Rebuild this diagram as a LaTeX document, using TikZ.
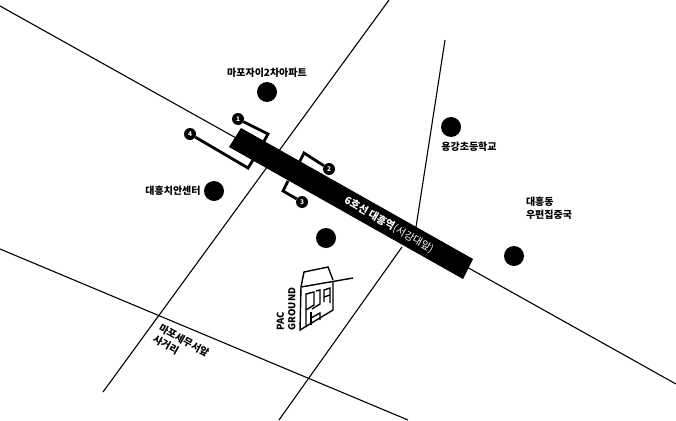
\documentclass[tikz,border=0pt]{standalone}
\usepackage{fontspec}
\setmainfont{Noto Sans CJK KR}
\usepackage{tikz}

\begin{document}
\begin{tikzpicture}[x=1pt, y=-1pt, road/.style = {draw, line width=1.1pt},
	dot/.style = {circle, fill=black, minimum size=20pt, inner sep=0pt},
	exitnum/.style = {circle, fill=black, text=white, minimum size=12pt, inner sep=0pt, font=\fontsize{6.5}{6.5}\selectfont\bfseries},
	exitline/.style = {draw, line width=2.8pt, miter limit=10},
	place/.style = {font=\fontsize{10}{12.5}\selectfont\bfseries, align=left},
	logo/.style = {draw, line width=1.4pt}]
	\useasboundingbox (0,0) rectangle (676,420);
	% roads
	\coordinate (a1) at (0,6);
	\coordinate (a2) at (676,384);
	\coordinate (b1) at (389,0);
	\coordinate (b2) at (103,392);
	\coordinate (c1) at (445,40);
	\coordinate (c2) at (414,240);
	\coordinate (c3) at (402,247);
	\coordinate (c4) at (279,420);
	\coordinate (d1) at (0,249);
	\coordinate (d2) at (408,420);
	\draw[road] (a1) -- (a2);
	\draw[road] (b1) -- (b2);
	\draw[road] (c1) -- (c2);
	\draw[road] (c3) -- (c4);
	\draw[road] (d1) -- (d2);
	% station
	\fill (241,128) -- (473,259) -- (463,279) -- (229,147) -- cycle;
	\node[rotate=-30, text=white, font=\fontsize{10.3}{12}\selectfont] (station) at (389,225) {\textbf{6호선 대흥역}(서강대앞)};
	% exits
	\node[exitnum] (1) at (238,119) {1};
	\node[exitnum] (2) at (329,169) {2};
	\node[exitnum] (3) at (302,202) {3};
	\node[exitnum] (4) at (190,134) {4};
	\coordinate (1a) at (268,134);
	\coordinate (1b) at (263,143);
	\coordinate (2a) at (304,153);
	\coordinate (2b) at (299,163);
	\coordinate (3a) at (283,191);
	\coordinate (3b) at (288,181);
	\coordinate (4a) at (248,168);
	\coordinate (4b) at (253,160);
	\draw[exitline] (1) -- (1a) -- (1b);
	\draw[exitline] (2) -- (2a) -- (2b);
	\draw[exitline] (3) -- (3a) -- (3b);
	\draw[exitline] (4) -- (4a) -- (4b);
	% places
	\node[dot] (p1) at (267,92) {};
	\node[dot] (p2) at (214,191) {};
	\node[dot] (p3) at (326,238) {};
	\node[dot] (p4) at (451,127) {};
	\node[dot] (p5) at (514,256) {};
	\node[place] (t1) at (267,73) {마포자이2차아파트};
	\node[place] (t2) at (173,191) {대흥치안센터};
	\node[place] (t4) at (469,147) {용강초등학교};
	\node[place] (t5) at (549,208) {대흥동\\우편집중국};
	\node[place, rotate=-29] (t6) at (181,346) {마포세무서앞\\사거리};
	% logo
	\draw[logo] (301,287) -- (304,272) -- (328,267) -- (333,280);
	\draw[logo] (301,287) -- (353,278);
	\draw[logo] (301,287) -- (300,330) -- (333,310) -- (333,282);
	\draw[logo] (306,327) -- (306,294) -- (314,292) -- (314,305) -- (306,310);
	\draw[logo] (316,291) -- (320,290) -- (320,304) -- (312,309);
	\draw[logo] (324,302) -- (324,290) -- (330,288) -- (330,303);
	\draw[logo] (324,297) -- (330,295);
	\draw[logo] (311,325) -- (311,312);
	\draw[logo] (311,318) -- (320,313) -- (320,320);
	\node[rotate=90, font=\fontsize{9.5}{11.5}\selectfont\bfseries, align=left] (pac) at (286,309) {PAC\\GROUND};
\end{tikzpicture}
\end{document}
